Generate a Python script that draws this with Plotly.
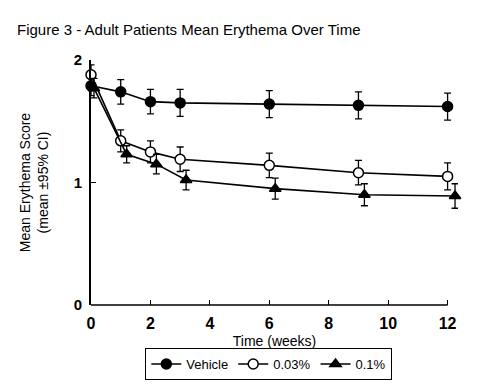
import plotly.graph_objects as go

weeks = [0, 1, 2, 3, 6, 9, 12]
weeks_tri = [0.1, 1.2, 2.2, 3.2, 6.2, 9.2, 12.25]

vehicle = [1.79, 1.74, 1.66, 1.65, 1.64, 1.63, 1.62]
vehicle_ci = [0.08, 0.10, 0.10, 0.11, 0.11, 0.11, 0.11]

low = [1.88, 1.34, 1.25, 1.19, 1.14, 1.08, 1.05]
low_ci = [0.08, 0.09, 0.09, 0.10, 0.10, 0.10, 0.11]

high = [1.77, 1.23, 1.15, 1.02, 0.95, 0.90, 0.89]
high_ci = [0.08, 0.07, 0.08, 0.08, 0.085, 0.09, 0.10]

series_names = ["Vehicle", "0.03%", "0.1%"]
x_ticks = [0, 2, 4, 6, 8, 10, 12]
y_ticks = [0, 1, 2]

FONT = "Liberation Sans Narrow, Arial Narrow, Liberation Sans, Arial, sans-serif"
TICKFONT = "Liberation Sans, Arial, sans-serif"

# the page has an 8px body margin; layout numbers below compensate for it
OFF = 8
W, H = 480, 392

fig = go.Figure()

def add(x, y, ci, name, symbol, fill):
    fig.add_trace(go.Scatter(
        x=x, y=y, name=name, mode="lines+markers",
        line=dict(color="black", width=1.6),
        marker=dict(symbol=symbol, size=10, color=fill,
                    line=dict(color="black", width=1.5)),
        error_y=dict(type="data", array=ci, visible=True, color="black",
                     thickness=1.3, width=3.5),
        cliponaxis=False,
    ))

add(weeks, vehicle, vehicle_ci, series_names[0], "circle", "black")
add(weeks, low, low_ci, series_names[1], "circle", "white")
add(weeks_tri, high, high_ci, series_names[2], "triangle-up", "black")

# x axis baseline (ends at the last tick, as in the original)
fig.add_shape(type="line", xref="x", yref="paper", x0=0, x1=x_ticks[-1], y0=0, y1=0,
              line=dict(color="black", width=1.6), layer="above")

plot_l = 91 - OFF
plot_r = 458.4 - OFF
plot_t = 60 - OFF
plot_b = 305 - OFF
pw = plot_r - plot_l
ph = plot_b - plot_t

fig.update_layout(
    width=W, height=H,
    margin=dict(l=plot_l, r=W - plot_r, t=plot_t, b=H - plot_b, autoexpand=False),
    paper_bgcolor="white", plot_bgcolor="white",
    font=dict(family=FONT, color="black", size=13),
    title=dict(text="Figure 3 - Adult Patients Mean Erythema Over Time",
               x=(17 - OFF) / W, xanchor="left", y=1 - (30 - OFF) / H, yanchor="middle",
               font=dict(size=15, family=FONT, color="black")),
    showlegend=True,
    legend=dict(orientation="h", x=(269 - 91) / pw, xanchor="center",
                y=-(364 - 305) / ph, yanchor="middle",
                bordercolor="black", borderwidth=1, bgcolor="white",
                font=dict(size=13, family=FONT, color="black"),
                itemwidth=30, tracegroupgap=0, itemsizing="trace"),
)

fig.update_xaxes(
    range=[0, 12.35], tickvals=x_ticks, ticktext=[str(v) for v in x_ticks],
    showline=False, ticks="inside", ticklen=5, automargin=False,
    tickcolor="black", showgrid=False, zeroline=False, ticklabelstandoff=7,
    tickfont=dict(size=16, family=TICKFONT, color="black", weight="bold"),
    title=dict(text="Time (weeks)", font=dict(size=14, family=FONT), standoff=5),
)
fig.update_yaxes(
    range=[0, 2], tickvals=y_ticks, ticktext=[str(v) for v in y_ticks],
    showline=True, linecolor="black", linewidth=1.6, ticks="inside", ticklen=5,
    automargin=False, ticklabelstandoff=4,
    tickcolor="black", showgrid=False, zeroline=False,
    tickfont=dict(size=15, family=TICKFONT, color="black", weight="bold"),
    title=dict(text="Mean Erythema Score<br>(mean ±95% CI)", font=dict(size=14, family=FONT), standoff=22),
)

fig.write_html("out.html")
